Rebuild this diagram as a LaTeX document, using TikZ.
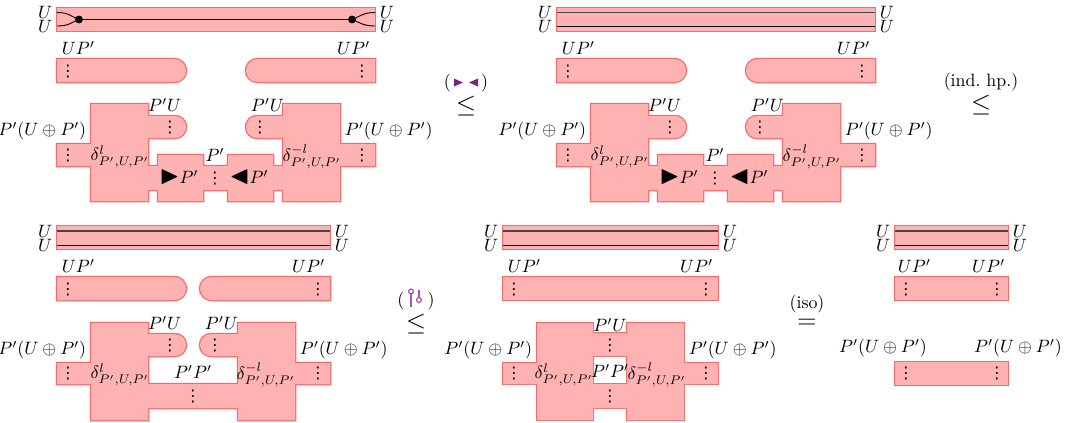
\documentclass[tikz,border=0pt]{standalone}
\usepackage{amsmath,amssymb}
\usepackage{fontspec}
\usetikzlibrary{positioning}
\newfontfamily\symfont{DejaVu Sans}
\definecolor{sheetpink}{RGB}{255,178,178}
\definecolor{sheetred}{RGB}{250,105,105}
\definecolor{relpurple}{RGB}{125,35,125}
\definecolor{lollipurple}{RGB}{165,85,175}
\newcommand{\vdotsm}{{\symfont\fontsize{9}{9}\selectfont ⋮}}

\begin{document}
\begin{tikzpicture}[
    x=0.56pt, y=-0.56pt,
    sheet/.style={fill=sheetpink, preaction={draw=sheetred, line width=1.4pt}},
    wire/.style={line width=0.5pt, color=black},
    backwire/.style={line width=0.9pt, color=black!72},
    spot/.style={circle, fill=black, inner sep=0pt, minimum size=4.4pt},
    lbl/.style={inner xsep=2.5pt, inner ysep=1.5pt},
    ulbl/.style={inner xsep=2.5pt, inner ysep=0pt},
    dots/.style={inner sep=0pt},
    rel/.style={inner sep=0pt}
]
    \useasboundingbox (0,0) rectangle (1083,422);

    % First diagram: top sheet with merged wires
    \path[sheet] (57,8) rectangle (375,31);
    \node[ulbl, anchor=east] (ua1) at (57,12.5) {$U$};
    \node[ulbl, anchor=east] (ua2) at (57,26) {$U$};
    \node[ulbl, anchor=west] (ua3) at (375,12.5) {$U$};
    \node[ulbl, anchor=west] (ua4) at (375,26) {$U$};
    \node[spot] (mergea) at (79,19.5) {};
    \node[spot] (splita) at (352,19.5) {};
    \draw[wire] (ua1.east) .. controls +(12,0) and +(-8,-3) .. (mergea.center);
    \draw[wire] (ua2.east) .. controls +(12,0) and +(-8,3) .. (mergea.center);
    \draw[wire] (mergea) -- (splita);
    \draw[wire] (splita.center) .. controls +(8,-3) and +(-12,0) .. (ua3.west);
    \draw[wire] (splita.center) .. controls +(8,3) and +(-12,0) .. (ua4.west);

    % Second diagram: top sheet with two wires
    \path[sheet] (557,8) rectangle (875,31);
    \node[ulbl, anchor=east] (ub1) at (557,12.5) {$U$};
    \node[ulbl, anchor=east] (ub2) at (557,26) {$U$};
    \node[ulbl, anchor=west] (ub3) at (875,12.5) {$U$};
    \node[ulbl, anchor=west] (ub4) at (875,26) {$U$};
    \draw[backwire] (ub1.east) -- (ub3.west);
    \draw[wire] (ub2.east) -- (ub4.west);

    % Middle and bottom rows, shared by the first two diagrams
    \foreach \dx/\n in {0/a, 500/b} {
      \begin{scope}[shift={(\dx,0)}]
        % Half sheets
        \path[sheet] (57,59) -- (174.5,59) arc[start angle=-90, end angle=90, radius=11.5] -- (57,82) -- cycle;
        \path[sheet] (375,59) -- (257.5,59) arc[start angle=-90, end angle=-270, radius=11.5] -- (375,82) -- cycle;
        \node[lbl, anchor=south west] (upl\n) at (57,58) {$UP'$};
        \node[lbl, anchor=south east] (upr\n) at (375,58) {$UP'$};
        \node[dots] (vul\n) at (68,71) {\vdotsm};
        \node[dots] (vur\n) at (362,71) {\vdotsm};

        % Delta blocks with the two triangles
        \path[sheet] (57,144) rectangle (91,166)
            (91,104) rectangle (148,201)
            (148,116) -- (175,116) arc[start angle=-90, end angle=90, radius=11] -- (148,138) -- cycle
            (148,166) rectangle (158,190)
            (158,155) rectangle (203,201)
            (203,166) rectangle (228,190)
            (228,155) rectangle (273,201)
            (273,166) rectangle (283,190)
            (283,104) rectangle (340,201)
            (283,116) -- (257,116) arc[start angle=-90, end angle=-270, radius=11] -- (283,138) -- cycle
            (340,144) rectangle (375,166);
        \node[lbl, anchor=south east] (pl\n) at (91,143) {$P'(U\oplus P')$};
        \node[lbl, anchor=south west] (pr\n) at (340,143) {$P'(U\oplus P')$};
        \node[dots] (vpl\n) at (68,155) {\vdotsm};
        \node[dots] (vpr\n) at (362,155) {\vdotsm};
        \node[inner sep=0pt] (dl\n) at (120,157) {$\delta^{l}_{P',U,P'}$};
        \node[inner sep=0pt] (dr\n) at (312,157) {$\delta^{-l}_{P',U,P'}$};
        \node[lbl, anchor=south east] (pul\n) at (186,115) {$P'U$};
        \node[lbl, anchor=south west] (pur\n) at (246,115) {$P'U$};
        \node[dots] (vsl\n) at (170,127) {\vdotsm};
        \node[dots] (vsr\n) at (260,127) {\vdotsm};
        \node[lbl, anchor=south] (pm\n) at (215,165) {$P'$};
        \node[dots] (vm\n) at (215,178) {\vdotsm};
        \node[inner sep=0pt] (tl\n) at (179,177) {{\Large$\blacktriangleright$}$P'$};
        \node[inner sep=0pt] (tr\n) at (249,177) {{\Large$\blacktriangleleft$}$P'$};
      \end{scope}
    }

    % Third diagram
    \path[sheet] (57,226) rectangle (330,249);
    \node[ulbl, anchor=east] (uc1) at (57,231) {$U$};
    \node[ulbl, anchor=east] (uc2) at (57,245) {$U$};
    \node[ulbl, anchor=west] (uc3) at (330,231) {$U$};
    \node[ulbl, anchor=west] (uc4) at (330,245) {$U$};
    \draw[backwire] (uc1.east) -- (uc3.west);
    \draw[wire] (uc2.east) -- (uc4.west);
    \path[sheet] (57,277) -- (174.5,277) arc[start angle=-90, end angle=90, radius=11.5] -- (57,300) -- cycle;
    \path[sheet] (330,277) -- (211.5,277) arc[start angle=-90, end angle=-270, radius=11.5] -- (330,300) -- cycle;
    \node[lbl, anchor=south west] (uplc) at (57,276) {$UP'$};
    \node[lbl, anchor=south east] (uprc) at (330,276) {$UP'$};
    \node[dots] (vulc) at (68,289) {\vdotsm};
    \node[dots] (vurc) at (318,289) {\vdotsm};
    \path[sheet] (57,363) rectangle (91,384)
        (91,323) rectangle (148,420)
        (148,334) -- (175,334) arc[start angle=-90, end angle=90, radius=11] -- (148,356) -- cycle
        (148,384) rectangle (238,408)
        (238,323) rectangle (295,420)
        (238,334) -- (211,334) arc[start angle=-90, end angle=-270, radius=11] -- (238,356) -- cycle
        (295,363) rectangle (330,384);
    \node[lbl, anchor=south east] (plc) at (91,362) {$P'(U\oplus P')$};
    \node[lbl, anchor=south west] (prc) at (295,362) {$P'(U\oplus P')$};
    \node[dots] (vplc) at (68,373) {\vdotsm};
    \node[dots] (vprc) at (318,373) {\vdotsm};
    \node[inner sep=0pt] (dlc) at (120,375) {$\delta^{l}_{P',U,P'}$};
    \node[inner sep=0pt] (drc) at (266,375) {$\delta^{-l}_{P',U,P'}$};
    \node[lbl, anchor=south east] (pulc) at (186,333) {$P'U$};
    \node[lbl, anchor=south west] (purc) at (200,333) {$P'U$};
    \node[dots] (vslc) at (170,345) {\vdotsm};
    \node[dots] (vsrc) at (215,345) {\vdotsm};
    \node[inner sep=0pt] (ppc) at (193,372) {$P'P'$};
    \node[dots] (vmc) at (193,396) {\vdotsm};

    % Fourth diagram
    \path[sheet] (503,226) rectangle (718,249);
    \node[ulbl, anchor=east] (ud1) at (503,231) {$U$};
    \node[ulbl, anchor=east] (ud2) at (503,245) {$U$};
    \node[ulbl, anchor=west] (ud3) at (718,231) {$U$};
    \node[ulbl, anchor=west] (ud4) at (718,245) {$U$};
    \draw[backwire] (ud1.east) -- (ud3.west);
    \draw[wire] (ud2.east) -- (ud4.west);
    \path[sheet] (503,277) rectangle (718,300);
    \node[lbl, anchor=south west] (upld) at (503,276) {$UP'$};
    \node[lbl, anchor=south east] (uprd) at (718,276) {$UP'$};
    \node[dots] (vuld) at (514,289) {\vdotsm};
    \node[dots] (vurd) at (706,289) {\vdotsm};
    \path[sheet] (503,363) rectangle (537,384)
        (537,323) rectangle (593,420)
        (593,333) rectangle (627,356)
        (593,384) rectangle (627,408)
        (627,323) rectangle (684,420)
        (684,363) rectangle (718,384);
    \node[lbl, anchor=south east] (pld) at (537,362) {$P'(U\oplus P')$};
    \node[lbl, anchor=south west] (prd) at (684,362) {$P'(U\oplus P')$};
    \node[dots] (vpld) at (514,373) {\vdotsm};
    \node[dots] (vprd) at (706,373) {\vdotsm};
    \node[inner sep=0pt] (dld) at (564,375) {$\delta^{l}_{P',U,P'}$};
    \node[inner sep=0pt] (drd) at (657,375) {$\delta^{-l}_{P',U,P'}$};
    \node[inner sep=0.5pt, anchor=south] (pud) at (610,333) {$P'U$};
    \node[dots] (vsd) at (610,345) {\vdotsm};
    \node[inner sep=0pt] (ppd) at (610,371) {$P'P'$};
    \node[dots] (vmd) at (610,396) {\vdotsm};

    % Fifth diagram
    \path[sheet] (895,226) rectangle (1008,249);
    \node[ulbl, anchor=east] (ue1) at (895,231) {$U$};
    \node[ulbl, anchor=east] (ue2) at (895,245) {$U$};
    \node[ulbl, anchor=west] (ue3) at (1008,231) {$U$};
    \node[ulbl, anchor=west] (ue4) at (1008,245) {$U$};
    \draw[backwire] (ue1.east) -- (ue3.west);
    \draw[wire] (ue2.east) -- (ue4.west);
    \path[sheet] (895,277) rectangle (1008,300);
    \node[lbl, anchor=south west] (uple) at (893,276) {$UP'$};
    \node[lbl, anchor=south east] (upre) at (1010,276) {$UP'$};
    \node[dots] (vule) at (906,289) {\vdotsm};
    \node[dots] (vure) at (997,289) {\vdotsm};
    \path[sheet] (895,362) rectangle (1008,385);
    \node[lbl, anchor=south] (ple) at (883,360) {$P'(U\oplus P')$};
    \node[lbl, anchor=south] (pre) at (1018,360) {$P'(U\oplus P')$};
    \node[dots] (vple) at (906,373) {\vdotsm};
    \node[dots] (vpre) at (997,373) {\vdotsm};

    % Relations
    \node[rel] (r1) at (466,83) {(\hspace{17pt})};
    \node[rel, below=2pt of r1] (le1) {\Large$\leq$};
    \fill[relpurple, shift={(r1.center)}] (-12,-4.5) -- (-3,-0.5) -- (-12,3.5) -- cycle
        (12,-4.5) -- (3,-0.5) -- (12,3.5) -- cycle;

    \node[rel] (r2) at (981,82) {(ind.\ hp.)};
    \node[rel, below=2pt of r2] (le2) {\Large$\leq$};

    \node[rel] (r3) at (416,301) {(\hspace{13pt})};
    \node[rel, below=2pt of r3] (le3) {\Large$\leq$};
    \begin{scope}[shift={(r3.center)}, lollipurple, line width=0.7pt]
        \draw (-5,-7) -- (-5,6);
        \draw[fill=white] (-5,-9.5) circle[radius=2.4];
        \draw (3,-11) -- (3,-3.5);
        \draw[fill=white] (3,-1) circle[radius=2.4];
    \end{scope}

    \node[rel] (r4) at (807,304) {(iso)};
    \node[rel, below=3pt of r4] (eq4) {\Large$=$};
\end{tikzpicture}
\end{document}
